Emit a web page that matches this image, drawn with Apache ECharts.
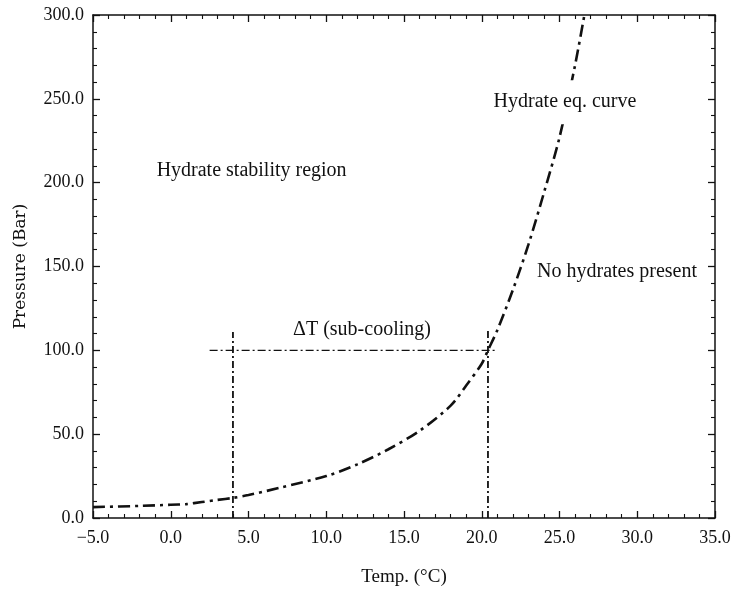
<!DOCTYPE html>
<html>
<head>
<meta charset="utf-8">
<script src="https://cdn.jsdelivr.net/npm/echarts@6/dist/echarts.min.js"></script>
<style>
  html, body { margin: 0; padding: 0; background: #fff; }
  #chart { width: 735px; height: 592px; }
</style>
</head>
<body>
<div id="chart"></div>
<script>
// hydrate equilibrium curve
var tempC = [-5, -2, 0, 1, 2, 3, 4, 5, 7, 10, 12, 14, 16, 18, 19, 20, 20.4, 21, 22, 23, 24, 25, 26, 26.6];
var pressureBar = [6.5, 7.2, 7.9, 8.3, 9.5, 10.8, 12, 13.7, 18, 25, 32, 41, 52, 67, 79, 92, 100, 112, 136, 163, 194, 227, 270, 300];

// sub-cooling construction lines
var subCoolT = [2.5, 21.0];
var subCoolP = 100;
var leftDropT = 4.0, leftDropTop = 111;
var rightDropT = 20.4, rightDropTop = 113;

// annotations: [T, P, text]
var notes = [
    [5.2, 207, 'Hydrate stability region'],
    [25.35, 248, 'Hydrate eq. curve'],
    [28.7, 147, 'No hydrates present'],
    [12.3, 112, '\u0394T (sub-cooling)']
];

var xTicks = [-5, 0, 5, 10, 15, 20, 25, 30, 35];
var yTicks = [0, 50, 100, 150, 200, 250, 300];

var FONT = '"Liberation Serif", "DejaVu Serif", serif';
var INK = '#111';

function fmt(v) {
    var s = Math.abs(v).toFixed(1);
    return v < 0 ? '\u2212' + s : s;
}

var curveData = [];
for (var i = 0; i < tempC.length; i++) {
    curveData.push([tempC[i], pressureBar[i]]);
}

var noteData = notes.map(function (n) {
    var item = { value: n };
    // the curve is broken around this label in the original
    if (n[2] === 'Hydrate eq. curve') {
        item.label = { backgroundColor: '#fff', padding: [12, 4] };
    }
    return item;
});

var chart = echarts.init(document.getElementById('chart'));

var axisCommon = {
    axisLine: { show: true, onZero: false, lineStyle: { color: INK, width: 1.5 } },
    axisTick: { show: true, inside: true, length: 7, lineStyle: { color: INK, width: 1.3 } },
    minorTick: { show: true, splitNumber: 5, length: 4, lineStyle: { color: INK, width: 1.1 } },
    splitLine: { show: false }
};

var option = {
    backgroundColor: '#fff',
    animation: false,
    grid: { left: 93, right: 20, top: 15, bottom: 72 },
    xAxis: [
        Object.assign({
            type: 'value', position: 'bottom', min: xTicks[0], max: xTicks[xTicks.length - 1], interval: 5,
            name: 'Temp. (\u00b0C)', nameLocation: 'middle', nameGap: 50,
            nameTextStyle: { fontFamily: FONT, fontSize: 19, color: INK },
            axisLabel: { formatter: fmt, fontFamily: FONT, fontSize: 18, color: INK, margin: 11 }
        }, axisCommon),
        Object.assign({
            type: 'value', position: 'top', min: xTicks[0], max: xTicks[xTicks.length - 1], interval: 5,
            axisLabel: { show: false }
        }, axisCommon)
    ],
    yAxis: [
        Object.assign({
            type: 'value', position: 'left', min: yTicks[0], max: yTicks[yTicks.length - 1], interval: 50,
            name: 'Pressure (Bar)', nameLocation: 'middle', nameGap: 64, nameRotate: 90,
            nameTextStyle: { fontFamily: '"DejaVu Serif", serif', fontSize: 17, color: INK },
            axisLabel: { formatter: fmt, fontFamily: FONT, fontSize: 18, color: INK, margin: 9 }
        }, axisCommon),
        Object.assign({
            type: 'value', position: 'right', min: yTicks[0], max: yTicks[yTicks.length - 1], interval: 50,
            axisLabel: { show: false }
        }, axisCommon)
    ],
    series: [
        {
            name: 'Hydrate eq. curve',
            type: 'line',
            data: curveData,
            smooth: 0.3,
            showSymbol: false,
            lineStyle: { color: INK, width: 2.6, type: [12, 5, 3, 5] }
        },
        {
            type: 'line',
            data: [[subCoolT[0], subCoolP], [subCoolT[1], subCoolP]],
            showSymbol: false,
            lineStyle: { color: INK, width: 1.3, type: [8, 3, 2, 3] }
        },
        {
            type: 'line',
            data: [[leftDropT, 0], [leftDropT, leftDropTop]],
            showSymbol: false,
            lineStyle: { color: INK, width: 1.8, type: [7, 3, 2, 3] }
        },
        {
            type: 'line',
            data: [[rightDropT, 0], [rightDropT, rightDropTop]],
            showSymbol: false,
            lineStyle: { color: INK, width: 1.8, type: [7, 3, 2, 3] }
        },
        {
            type: 'scatter',
            data: noteData,
            symbolSize: 1,
            itemStyle: { color: 'rgba(0,0,0,0)', opacity: 1 },
            label: {
                show: true,
                position: 'inside',
                formatter: function (p) { return p.value[2]; },
                fontFamily: FONT,
                fontSize: 20,
                color: INK
            },
            z: 5
        }
    ]
};

chart.setOption(option);
</script>
</body>
</html>
